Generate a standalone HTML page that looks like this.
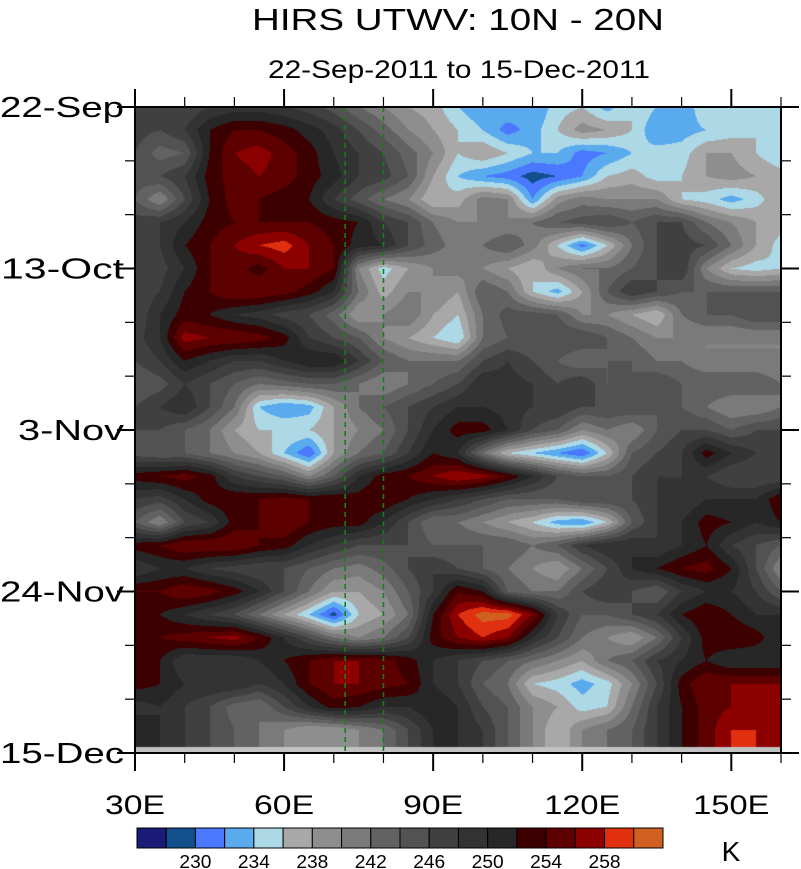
<!DOCTYPE html>
<html><head><meta charset="utf-8">
<style>
body{margin:0;background:#fff;width:801px;height:869px;overflow:hidden;font-family:"Liberation Sans",sans-serif;}
#wrap{position:relative;width:801px;height:869px;}
canvas{position:absolute;left:135px;top:107px;}
svg{position:absolute;left:0;top:0;}
</style></head><body>
<div id="wrap">
<canvas id="field" width="646" height="646"></canvas>
<svg id="ov" width="801" height="869">
<text x="458" y="30" font-size="31" text-anchor="middle" textLength="412" lengthAdjust="spacingAndGlyphs" fill="#000">HIRS UTWV: 10N - 20N</text>
<text x="459" y="78" font-size="25" text-anchor="middle" textLength="382" lengthAdjust="spacingAndGlyphs" fill="#000">22-Sep-2011 to 15-Dec-2011</text>
<text x="731" y="861" font-size="28" text-anchor="middle" fill="#000">K</text>
</svg>
</div>
<script>
const lons=[30,35,40,45,50,55,60,65,70,75,80,85,90,95,100,105,110,115,120,125,130,135,140,145,150,155,160];
const days=[0,3,6,9,12,15,18,21,24,27,30,33,36,39,42,45,48,51,54,57,60,63,66,69,72,75,78,81,84];
const r0=[246,247,246,248,249,249,248,247,245,242,240,238,237,234,232,234,232,235,236,233,236,234,232,236,234,235,236];
const r1=[247,246,248,252,254,254,253,251,249,246,243,240,238,236,234,231,233,236,239,238,236,232,233,234,235,236,236];
const r2=[246,243,244,252,256,257,255,253,250,248,246,243,240,236,238,236,234,234,231,232,234,235,235,238,238,236,234];
const r3=[245,246,248,253,255,256,255,253,251,248,247,244,238,234,232,231,229,230,232,236,237,235,236,238,239,238,237];
const r4=[244,240,246,252,255,254,253,252,248,245,242,240,236,237,241,240,232,239,241,240,240,240,236,235,233,235,238];
const r5=[247,248,250,253,254,254,254,254,253,252,248,246,242,240,240,240,242,244,245,246,244,246,246,242,240,238,237];
const r6=[247,248,252,254,256,258,259,256,254,251,250,246,243,241,242,244,241,236,231,236,242,246,247,246,242,238,235];
const r7=[246,247,250,254,255,253,256,256,254,240,235,238,240,241,240,238,236,240,242,242,244,246,248,240,236,235,236];
const r8=[246,248,252,254,256,256,255,253,250,242,237,240,240,238,244,242,236,233,238,244,248,246,244,244,244,244,244];
const r9=[246,250,253,252,250,249,247,246,243,238,240,242,238,236,242,245,245,244,240,240,238,236,242,244,244,246,246];
const r10=[247,250,257,256,256,255,253,248,246,244,240,238,236,234,242,244,244,246,246,244,242,240,240,240,240,240,240];
const r11=[246,248,252,250,248,248,250,252,252,248,244,242,242,242,246,248,246,244,242,244,244,242,242,240,240,240,240];
const r12=[244,245,248,246,244,242,243,244,244,242,240,242,244,246,250,249,248,246,248,244,244,246,244,244,244,244,242];
const r13=[246,248,250,246,242,234,232,233,238,242,244,246,248,250,250,249,248,248,246,246,246,244,244,242,240,240,242];
const r14=[246,246,244,242,238,236,236,236,238,240,242,246,250,253,253,250,246,244,240,242,240,244,246,246,244,246,246];
const r15=[245,244,244,242,240,238,234,230,238,242,244,248,252,250,242,236,234,232,230,236,244,246,248,253,250,248,246];
const r16=[253,254,255,253,248,246,244,240,244,250,253,254,256,258,257,254,250,246,244,244,246,248,248,248,246,246,246];
const r17=[248,247,250,253,254,254,255,254,254,253,254,252,250,248,246,244,244,244,246,246,246,248,248,250,250,250,254];
const r18=[244,240,246,248,253,254,256,254,253,253,250,246,242,242,240,238,236,233,232,236,244,248,250,253,252,250,252];
const r19=[253,254,256,256,256,254,253,250,248,246,246,246,244,244,244,244,242,244,248,250,250,248,250,252,248,246,244];
const r20=[248,250,250,248,247,246,246,244,242,241,243,246,248,246,244,242,240,238,242,246,250,252,254,255,252,246,240];
const r21=[254,254,256,255,253,250,246,242,238,238,240,244,248,254,252,244,242,242,246,248,246,244,248,250,250,248,244];
const r22=[253,252,250,248,246,242,238,234,229,236,238,242,252,258,261,261,256,248,244,244,246,248,252,254,252,250,250];
const r23=[253,254,255,256,257,254,250,246,242,240,242,246,253,256,258,256,250,246,242,240,238,242,248,253,254,253,250];
const r24=[252,252,248,248,248,250,252,254,256,256,255,253,250,248,246,244,242,240,238,242,244,248,250,252,250,250,250];
const r25=[253,252,250,250,250,248,250,254,256,256,255,254,250,248,244,242,236,235,233,235,240,246,253,256,256,256,256];
const r26=[249,250,248,246,243,242,246,250,253,252,250,250,252,250,246,244,240,238,235,236,242,248,252,255,256,258,256];
const r27=[252,250,248,246,244,242,240,238,238,240,242,246,250,250,248,244,240,236,240,242,244,248,252,255,258,258,256];
const r28=[252,250,248,246,244,242,240,238,238,240,242,246,250,250,248,244,240,236,240,242,244,248,252,255,258,258,256];
const rows=[r0,r1,r2,r3,r4,r5,r6,r7,r8,r9,r10,r11,r12,r13,r14,r15,r16,r17,r18,r19,r20,r21,r22,r23,r24,r25,r26,r27,r28];
const levels=[228,230,232,234,236,238,240,242,244,246,248,250,252,254,256,258,260];
const barLabels=["230","234","238","242","246","250","254","258"];
const dateLabels=["22-Sep","13-Oct","3-Nov","24-Nov","15-Dec"];
const dateDays=[0,21,42,63,84];
const lonLabels=["30E","60E","90E","120E","150E"];
const lonTicks=[30,60,90,120,150];
const refLons=[72.3,80];

const colors=["#1a1a78","#124f8c","#4a78ff","#5aaaee","#add8e6","#a8a8a8","#8e8e8e","#7a7a7a","#626262","#525252","#404040","#333333","#272727","#3c0000","#5c0000","#8c0000","#e03010","#d06020"];
const X0=135,X1=781,Y0=107,Y1=753;
const xs=l=>X0+(l-30)/(160-30)*(X1-X0);
const ys=d=>Y0+d/84*(Y1-Y0);
function lev(v){let k=0;while(k<levels.length&&v>=levels[k])k++;return k;}
function hex(c){return [parseInt(c.slice(1,3),16),parseInt(c.slice(3,5),16),parseInt(c.slice(5,7),16)];}
const rgb=colors.map(hex);
const cv=document.getElementById('field');const ctx=cv.getContext('2d');
const W=cv.width,H=cv.height;const img=ctx.createImageData(W,H);
const nx=lons.length-1,ny=days.length-1;
for(let py=0;py<H;py++){
  const d=(py+0.5)/H*84;let j=Math.min(ny-1,Math.floor(d/3));const ty=(d-days[j])/(days[j+1]-days[j]);
  for(let px=0;px<W;px++){
    const l=30+(px+0.5)/W*130;let i=Math.min(nx-1,Math.floor((l-30)/5));const tx=(l-lons[i])/(lons[i+1]-lons[i]);
    const v=(rows[j][i]*(1-tx)+rows[j][i+1]*tx)*(1-ty)+(rows[j+1][i]*(1-tx)+rows[j+1][i+1]*tx)*ty;
    const c=rgb[lev(v)];const o=(py*W+px)*4;
    img.data[o]=c[0];img.data[o+1]=c[1];img.data[o+2]=c[2];img.data[o+3]=255;
  }
}
ctx.putImageData(img,0,0);
ctx.fillStyle="#c2c2c2";ctx.fillRect(0,640,W,6);

const svg=document.getElementById('ov');const NS="http://www.w3.org/2000/svg";
function mk(t,a){const e=document.createElementNS(NS,t);for(const k in a)e.setAttribute(k,a[k]);svg.appendChild(e);return e;}
refLons.forEach(l=>{const e=mk('line',{x1:xs(l),x2:xs(l),y1:Y0,y2:Y1,stroke:"#148014","stroke-width":1.6,"stroke-dasharray":"5,4"});

});
const fr=mk('rect',{x:X0,y:Y0,width:X1-X0,height:Y1-Y0,fill:"none",stroke:"#000","stroke-width":2});


for(let d=0;d<=84;d+=7){const maj=d%21===0;const y=ys(d);const len=maj?18:10;
  const a=mk('line',{x1:X0-len,x2:X0,y1:y,y2:y,stroke:"#000","stroke-width":maj?2:1.2});
  
  
  const b=mk('line',{x1:X1,x2:X1+len,y1:y,y2:y,stroke:"#000","stroke-width":maj?2:1.2});
  
  }
const dateW=[124,123,106,124,124];
dateLabels.forEach((s,k)=>{const t=mk('text',{x:124,y:ys(dateDays[k])+10,"font-size":29,"text-anchor":"end",textLength:dateW[k],lengthAdjust:"spacingAndGlyphs",fill:"#000"});t.textContent=s;
  
  });
for(let l=30;l<=160;l+=10){const maj=lonTicks.includes(l);const x=xs(l);const len=maj?18:10;
  const a=mk('line',{x1:x,x2:x,y1:Y1,y2:Y1+len,stroke:"#000","stroke-width":maj?2:1.2});
  
  
  const b=mk('line',{x1:x,x2:x,y1:Y0-len,y2:Y0,stroke:"#000","stroke-width":maj?2:1.2});
  
  }
const lonW=[60,60,60,76,76];
lonLabels.forEach((s,k)=>{const t=mk('text',{x:xs(lonTicks[k]),y:814,"font-size":27,"text-anchor":"middle",textLength:lonW[k],lengthAdjust:"spacingAndGlyphs",fill:"#000"});t.textContent=s;
  
  });
const CB0=137,CB1=663,bw=(CB1-CB0)/colors.length;
colors.forEach((c,k)=>{const r=mk('rect',{x:CB0+k*bw,y:828,width:bw,height:20,fill:c,stroke:"#000","stroke-width":1});
  
  });
barLabels.forEach((s,k)=>{const t=mk('text',{x:CB0+(2+2*k)*bw,y:868,"font-size":18,"text-anchor":"middle",textLength:32,lengthAdjust:"spacingAndGlyphs",fill:"#000"});t.textContent=s;
  
  });
</script>
</body></html>
